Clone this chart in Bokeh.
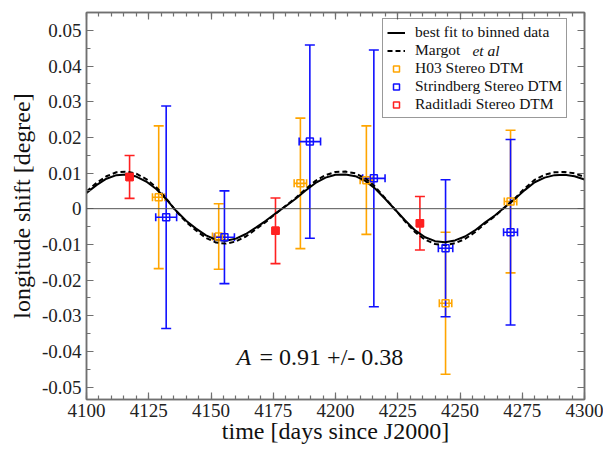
from bokeh.plotting import figure
from bokeh.models import (ColumnDataSource, Whisker, TeeHead, Span, Label, Legend, LegendItem,
                          FixedTicker, LinearAxis, Range1d, CustomLabelingPolicy)
from bokeh.embed import file_html
from bokeh.resources import INLINE

# ---------------- data ----------------
fit_time = [4100, 4104, 4108, 4112, 4116, 4120, 4124, 4128, 4132, 4136, 4140, 4144, 4148,
            4152, 4156, 4160, 4164, 4168, 4172, 4176, 4180, 4184, 4188, 4192, 4196, 4200,
            4204, 4208, 4212, 4216, 4220, 4224, 4228, 4232, 4236, 4240, 4244, 4248, 4252,
            4256, 4260, 4264, 4268, 4272, 4276, 4280, 4284, 4288, 4292, 4296, 4300]
fit_shift = [0.0044, 0.0066, 0.0084, 0.0094, 0.0096, 0.0090, 0.0076, 0.0055, 0.0027, -0.0006,
             -0.0034, -0.0056, -0.0075, -0.0087, -0.0090, -0.0084, -0.0071, -0.0053, -0.0034,
             -0.0013, 0.0007, 0.0028, 0.0051, 0.0072, 0.0087, 0.0095, 0.0096, 0.0091, 0.0078,
             0.0056, 0.0027, -0.0003, -0.0033, -0.0061, -0.0080, -0.0091, -0.0094, -0.0089,
             -0.0078, -0.0061, -0.0039, -0.0019, 0.0004, 0.0027, 0.0052, 0.0074, 0.0087,
             0.0094, 0.0095, 0.0091, 0.0082]
margot_shift = [0.0048, 0.0072, 0.0091, 0.0102, 0.0104, 0.0098, 0.0083, 0.0060, 0.0029, -0.0007,
                -0.0037, -0.0061, -0.0082, -0.0095, -0.0098, -0.0092, -0.0078, -0.0058, -0.0037,
                -0.0014, 0.0008, 0.0030, 0.0055, 0.0078, 0.0094, 0.0103, 0.0104, 0.0099, 0.0085,
                0.0061, 0.0029, -0.0003, -0.0036, -0.0066, -0.0087, -0.0099, -0.0102, -0.0097,
                -0.0085, -0.0066, -0.0042, -0.0021, 0.0004, 0.0029, 0.0057, 0.0081, 0.0095,
                0.0102, 0.0103, 0.0099, 0.0089]

h03_time = [4129.0, 4153.1, 4185.9, 4212.4, 4244.2, 4270.3]
h03_shift = [0.0032, -0.0078, 0.0071, 0.0080, -0.0265, 0.0020]
h03_err = [0.0200, 0.0092, 0.0183, 0.0152, 0.0199, 0.0200]
h03_dt = [2.5, 2.5, 2.5, 2.5, 2.5, 2.5]

str_time = [4132.0, 4155.4, 4189.7, 4215.4, 4244.2, 4270.3]
str_shift = [-0.0024, -0.0080, 0.0188, 0.0085, -0.0111, -0.0066]
str_err = [0.0312, 0.0130, 0.0271, 0.0360, 0.0192, 0.0260]
str_dt = [4.2, 4.0, 4.3, 4.5, 2.9, 2.8]

rad_time = [4117.3, 4175.9, 4233.9]
rad_shift = [0.0089, -0.0062, -0.0041]
rad_err = [0.0060, 0.0092, 0.0075]

x_ticks = [4100, 4125, 4150, 4175, 4200, 4225, 4250, 4275, 4300]
x_minor = [4100 + 5 * i for i in range(41)]
y_ticks = [-0.05, -0.04, -0.03, -0.02, -0.01, 0.0, 0.01, 0.02, 0.03, 0.04, 0.05]
y_tick_labels = ["-0.05", "-0.04", "-0.03", "-0.02", "-0.01", "0",
                 "0.01", "0.02", "0.03", "0.04", "0.05"]
y_minor = [-0.055 + 0.005 * i for i in range(23)]

FONT = "Liberation Serif"
AXIS_COL = "#707070"
ORANGE = "#FFA500"
BLUE = "#1010FF"
RED = "#FF2020"

p = figure(width=603, height=448, output_backend="svg", toolbar_location=None,
           x_range=Range1d(4100, 4300), y_range=Range1d(-0.0535, 0.055),
           min_border_left=86, min_border_right=19, min_border_top=12, min_border_bottom=49)
p.xgrid.visible = False
p.ygrid.visible = False
p.outline_line_color = AXIS_COL
p.outline_line_width = 1.5

p.xaxis.axis_label = "time [days since J2000]"
p.yaxis.axis_label = "longitude shift [degree]"
p.xaxis.ticker = FixedTicker(ticks=x_ticks, minor_ticks=x_minor)
p.yaxis.ticker = FixedTicker(ticks=y_ticks, minor_ticks=y_minor)
p.yaxis.major_label_overrides = dict(zip(y_ticks, y_tick_labels))

for ax in (p.xaxis[0], p.yaxis[0]):
    ax.axis_line_color = AXIS_COL
    ax.axis_line_width = 1.5
    ax.major_tick_line_color = AXIS_COL
    ax.minor_tick_line_color = AXIS_COL
    ax.major_tick_line_width = 1.2
    ax.minor_tick_line_width = 1.2
    ax.major_tick_in = 7
    ax.major_tick_out = 0
    ax.minor_tick_in = 4
    ax.minor_tick_out = 0
    ax.major_label_text_font = FONT
    ax.major_label_text_font_size = "19px"
    ax.major_label_text_color = "#222222"
    ax.axis_label_text_font = FONT
    ax.axis_label_text_font_size = "24px"
    ax.axis_label_text_font_style = "normal"
    ax.axis_label_text_color = "#111111"
p.xaxis.major_label_standoff = 4
p.xaxis.axis_label_standoff = -2
p.yaxis.major_label_standoff = 5
p.yaxis.axis_label_standoff = 4

for loc, rng_ticks, rng_minor in (("above", x_ticks, x_minor), ("right", y_ticks, y_minor)):
    ax = LinearAxis(ticker=FixedTicker(ticks=rng_ticks, minor_ticks=rng_minor),
                    major_label_text_font_size="1px", major_label_standoff=0,
                    major_label_policy=CustomLabelingPolicy(code="if (false) { yield 0 }"),
                    axis_line_color=AXIS_COL, axis_line_width=1.5,
                    major_tick_line_color=AXIS_COL, minor_tick_line_color=AXIS_COL,
                    major_tick_line_width=1.2, minor_tick_line_width=1.2,
                    major_tick_in=7, major_tick_out=0, minor_tick_in=4, minor_tick_out=0)
    p.add_layout(ax, loc)

p.add_layout(Span(location=0, dimension="width", line_color="#555555", line_width=1))

# curves
r_fit = p.line(fit_time, fit_shift, line_color="black", line_width=2)
r_margot = p.line(fit_time, margot_shift, line_color="black", line_width=2, line_dash="5 3")


def errbars(t, s, e, dt, color):
    src = ColumnDataSource(dict(t=t, s=s,
                                lo=[a - b for a, b in zip(s, e)],
                                hi=[a + b for a, b in zip(s, e)]))
    p.add_layout(Whisker(source=src, base="t", lower="lo", upper="hi", dimension="height",
                         line_color=color, line_width=1.6,
                         lower_head=TeeHead(size=10, line_color=color, line_width=1.6),
                         upper_head=TeeHead(size=10, line_color=color, line_width=1.6)))
    if dt is not None:
        src2 = ColumnDataSource(dict(s=s,
                                     lo=[a - b for a, b in zip(t, dt)],
                                     hi=[a + b for a, b in zip(t, dt)]))
        p.add_layout(Whisker(source=src2, base="s", lower="lo", upper="hi", dimension="width",
                             line_color=color, line_width=1.6,
                             lower_head=TeeHead(size=8, line_color=color, line_width=1.6),
                             upper_head=TeeHead(size=8, line_color=color, line_width=1.6)))


errbars(h03_time, h03_shift, h03_err, h03_dt, ORANGE)
errbars(str_time, str_shift, str_err, str_dt, BLUE)
errbars(rad_time, rad_shift, rad_err, None, RED)

r_h03 = p.scatter(h03_time, h03_shift, marker="square", size=7, fill_color=None,
                  line_color=ORANGE, line_width=1.5)
r_str = p.scatter(str_time, str_shift, marker="square", size=7, fill_color=None,
                  line_color=BLUE, line_width=1.5)
# hollow outline (shown in legend) + filled square on top (plot only)
r_rad_leg = p.scatter(rad_time, rad_shift, marker="square", size=7, fill_color=None,
                      line_color=RED, line_width=1.5)
r_rad = p.scatter(rad_time, rad_shift, marker="square", size=7, fill_color=RED,
                  line_color=RED, line_width=1.5)

legend = Legend(items=[
    LegendItem(label="best fit to binned data", renderers=[r_fit]),
    LegendItem(label="Margot", renderers=[r_margot]),
    LegendItem(label="H03 Stereo DTM", renderers=[r_h03]),
    LegendItem(label="Strindberg Stereo DTM", renderers=[r_str]),
    LegendItem(label="Raditladi Stereo DTM", renderers=[r_rad_leg]),
], location=(296, 281), label_text_font=FONT, label_text_font_size="15.5px",
    label_text_color="#111111", glyph_width=18, glyph_height=15, label_height=15,
    label_standoff=10, spacing=0, padding=4, margin=0,
    border_line_color="#333333", border_line_width=1.2, background_fill_alpha=0)
p.add_layout(legend)

p.add_layout(Label(x=4255.0, y=0.0444, text="et al", text_font=FONT, text_font_size="15.5px",
                   text_font_style="italic", text_baseline="middle", text_color="#111111"))

p.add_layout(Label(x=4160.2, y=-0.0415, text="A", text_font=FONT, text_font_size="24px",
                   text_font_style="italic", text_baseline="middle", text_color="#111111"))
p.add_layout(Label(x=4169.5, y=-0.0415, text="= 0.91 +/- 0.38", text_font=FONT,
                   text_font_size="24px", text_baseline="middle", text_color="#111111"))

open("out.html", "w").write(file_html(p, INLINE))
